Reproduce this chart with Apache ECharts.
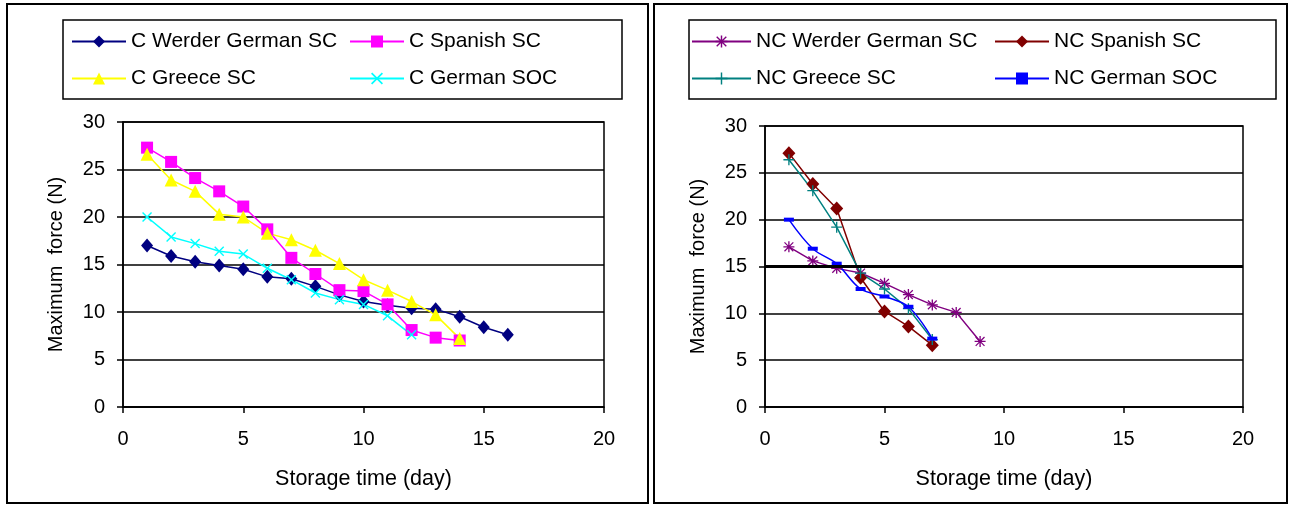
<!DOCTYPE html>
<html>
<head>
<meta charset="utf-8">
<script src="https://cdn.jsdelivr.net/npm/echarts@6/dist/echarts.min.js"></script>
<style>
  html, body { margin: 0; padding: 0; background: #fff; }
  #chart { width: 1290px; height: 506px; }
</style>
</head>
<body>
<div id="chart"></div>
<script>
// storage days
const daysC1 = [1, 2, 3, 4, 5, 6, 7, 8, 9, 10, 11, 12, 13, 14, 15, 16]
const daysC2 = [1, 2, 3, 4, 5, 6, 7, 8, 9, 10, 11, 12, 13, 14]
const daysC3 = [1, 2, 3, 4, 5, 6, 7, 8, 9, 10, 11, 12]
const daysNC1 = [1, 2, 3, 4, 5, 6, 7, 8, 9]
const daysNC2 = [1, 2, 3, 4, 5, 6, 7]

// left chart (C)
const cWerder = [17.0, 15.9, 15.3, 14.9, 14.5, 13.7, 13.5, 12.7, 11.8, 11.1, 10.7, 10.4, 10.3, 9.5, 8.4, 7.6]
const cSpanish = [27.3, 25.8, 24.1, 22.7, 21.1, 18.7, 15.7, 14.0, 12.3, 12.2, 10.8, 8.1, 7.3, 7.0]
const cGreece = [26.6, 23.9, 22.7, 20.3, 20.0, 18.3, 17.6, 16.5, 15.1, 13.4, 12.3, 11.1, 9.7, 7.2]
const cGermanSoc = [20.0, 17.9, 17.2, 16.4, 16.1, 14.6, 13.4, 12.0, 11.3, 10.8, 9.6, 7.6]

// right chart (NC)
const ncWerder = [17.1, 15.6, 14.8, 14.3, 13.2, 12.0, 10.9, 10.1, 7.0]
const ncSpanish = [27.1, 23.8, 21.2, 13.8, 10.2, 8.6, 6.6]
const ncGreece = [26.4, 23.1, 19.2, 14.3, 12.6, 10.5, 7.2]
const ncGermanSoc = [20.0, 16.9, 15.3, 12.6, 11.8, 10.7, 7.3]

const xTicks = [0, 20, 5]
const yTicks = [0, 30, 5]

const FONT = 'Arial, "Liberation Sans", sans-serif'

function pairs (days, vals) {
  return vals.map((v, i) => [days[i], v])
}

// marker shapes
const SYM_X = 'path://M0,1L1,0L5,4L9,0L10,1L6,5L10,9L9,10L5,6L1,10L0,9L4,5Z'
const SYM_PLUS = 'path://M4.4,0H5.6V4.4H10V5.6H5.6V10H4.4V5.6H0V4.4H4.4Z'
const SYM_STAR = 'path://M4.4,0H5.6V4.4H10V5.6H5.6V10H4.4V5.6H0V4.4H4.4Z' +
  'M0.6,1.4L1.4,0.6L5,4.2L8.6,0.6L9.4,1.4L5.8,5L9.4,8.6L8.6,9.4L5,5.8L1.4,9.4L0.6,8.6L4.2,5Z'

function xAxis (grid) {
  return {
    type: 'value',
    gridIndex: grid,
    min: xTicks[0],
    max: xTicks[1],
    interval: xTicks[2],
    name: 'Storage time (day)',
    nameLocation: 'middle',
    nameGap: 61,
    nameTextStyle: { color: '#000', fontSize: 21.5, fontFamily: FONT },
    axisLine: { lineStyle: { color: '#000', width: 1.5 } },
    axisTick: { length: 6, lineStyle: { color: '#000', width: 1.5 } },
    axisLabel: { color: '#000', fontSize: 20, fontFamily: FONT, margin: 22 },
    splitLine: { show: false }
  }
}

function yAxis (grid) {
  return {
    type: 'value',
    gridIndex: grid,
    min: yTicks[0],
    max: yTicks[1],
    interval: yTicks[2],
    name: 'Maximum  force (N)',
    nameLocation: 'middle',
    nameGap: 57,
    nameTextStyle: { color: '#000', fontSize: 20, fontFamily: FONT },
    axisLine: { show: true, lineStyle: { color: '#000', width: 1.5 } },
    axisTick: { show: true, length: 6, lineStyle: { color: '#000', width: 1.5 } },
    axisLabel: { color: '#000', fontSize: 20, fontFamily: FONT, margin: 18 },
    splitLine: { show: true, lineStyle: { color: '#000', width: 1.5 } }
  }
}

function line (name, grid, data, color, symbol, size, extra) {
  return Object.assign({
    name: name,
    type: 'line',
    xAxisIndex: grid,
    yAxisIndex: grid,
    data: data,
    symbol: symbol,
    symbolSize: size,
    showAllSymbol: true,
    lineStyle: { color: color, width: 1.5 },
    itemStyle: { color: color },
    emphasis: { disabled: true },
    animation: false
  }, extra || {})
}

function legend (name, left, top, w) {
  return {
    data: [name],
    left: left,
    top: top,
    padding: 0,
    itemWidth: w,
    itemHeight: 15,
    textStyle: { color: '#000', fontSize: 21, fontFamily: FONT },
    selectedMode: false
  }
}

const myChart = echarts.init(document.getElementById('chart'))

const option = {
  backgroundColor: '#fff',
  animation: false,
  grid: [
    { left: 123, right: 1290 - 604, top: 122, bottom: 506 - 407, show: true, borderColor: '#000', borderWidth: 1.5 },
    { left: 765, right: 1290 - 1243, top: 126, bottom: 506 - 407, show: true, borderColor: '#000', borderWidth: 1.5 }
  ],
  xAxis: [xAxis(0), xAxis(1)],
  yAxis: [yAxis(0), yAxis(1)],
  legend: [
    legend('C Werder German SC', 71, 31, 54),
    legend('C Spanish SC', 349, 31, 54),
    legend('C Greece SC', 71, 68, 54),
    legend('C German SOC', 349, 68, 54),
    legend('NC Werder German SC', 691, 31, 59),
    legend('NC Spanish SC', 994, 31, 54),
    legend('NC Greece SC', 691, 68, 59),
    legend('NC German SOC', 994, 68, 54)
  ],
  graphic: [
    // panel frames
    { type: 'rect', shape: { x: 7, y: 4, width: 641, height: 499 }, style: { fill: 'none', stroke: '#000', lineWidth: 2 }, silent: true },
    { type: 'rect', shape: { x: 654, y: 4, width: 633, height: 499 }, style: { fill: 'none', stroke: '#000', lineWidth: 2 }, silent: true },
    // legend boxes
    { type: 'rect', shape: { x: 63, y: 20, width: 559, height: 79 }, style: { fill: 'none', stroke: '#000', lineWidth: 1.5 }, silent: true },
    { type: 'rect', shape: { x: 689, y: 20, width: 587, height: 79 }, style: { fill: 'none', stroke: '#000', lineWidth: 1.5 }, silent: true }
  ],
  series: [
    line('C Werder German SC', 0, pairs(daysC1, cWerder), '#000080', 'diamond', [12, 14]),
    line('C Spanish SC', 0, pairs(daysC2, cSpanish), '#FF00FF', 'rect', 12),
    line('C Greece SC', 0, pairs(daysC2, cGreece), '#FFFF00', 'triangle', 13),
    line('C German SOC', 0, pairs(daysC3, cGermanSoc), '#00FFFF', SYM_X, 10),
    line('NC Werder German SC', 1, pairs(daysNC1, ncWerder), '#800080', SYM_STAR, 11, {
      markLine: {
        silent: true,
        symbol: 'none',
        label: { show: false },
        lineStyle: { color: '#000', width: 3, type: 'solid' },
        data: [{ yAxis: 15 }],
        animation: false
      }
    }),
    line('NC Spanish SC', 1, pairs(daysNC2, ncSpanish), '#800000', 'diamond', [13, 14]),
    line('NC Greece SC', 1, pairs(daysNC2, ncGreece), '#008080', SYM_PLUS, 11),
    line('NC German SOC', 1, pairs(daysNC2, ncGermanSoc), '#0000FF', 'rect', [10, 4], { smooth: 0.35 })
  ]
}

myChart.setOption(option)
</script>
</body>
</html>
